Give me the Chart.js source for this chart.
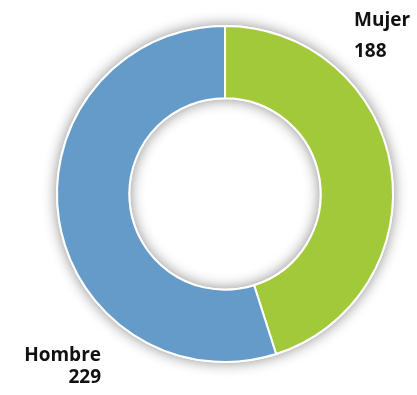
<!DOCTYPE html>
<html>
<head>
<meta charset="utf-8">
<script src="https://cdn.jsdelivr.net/npm/chart.js@4"></script>
<style>
  html, body { margin: 0; padding: 0; background: #fff; }
  #wrap { width: 417px; height: 395px; position: relative; }
</style>
</head>
<body>
<div id="wrap"><canvas id="c"></canvas></div>
<script>
// Gender split doughnut
const labels = ["Mujer", "Hombre"];
const counts = [188, 229];
const colors = ["#a2c93a", "#659bc8"];

// Soft shadow under the whole ring, drawn once so the segment joins stay clean.
const ringShadow = {
  id: "ringShadow",
  beforeDatasetsDraw(chart) {
    const arc = chart.getDatasetMeta(0).data[0];
    if (!arc) return;
    const { x, y, outerRadius, innerRadius } = arc.getProps(["x", "y", "outerRadius", "innerRadius"], true);
    const ctx = chart.ctx;
    ctx.save();
    ctx.shadowColor = "rgba(0,0,0,0.45)";
    ctx.shadowBlur = 14;
    ctx.fillStyle = "#fff";
    ctx.beginPath();
    ctx.arc(x, y, outerRadius + 1, 0, Math.PI * 2);
    ctx.arc(x, y, innerRadius - 1, 0, Math.PI * 2, true);
    ctx.fill();
    ctx.restore();
  },
};

// Name + count labels placed outside the ring
const outsideLabels = {
  id: "outsideLabels",
  afterDraw(chart) {
    const arc = chart.getDatasetMeta(0).data[0];
    const { x, y } = arc.getProps(["x", "y"], true);
    const ctx = chart.ctx;
    ctx.save();
    ctx.fillStyle = "#111";
    ctx.font = 'bold 19px "Open Sans", sans-serif';
    ctx.textBaseline = "alphabetic";
    ctx.textAlign = "left";
    ctx.fillText(labels[0], x + 129, y - 168);
    ctx.fillText(String(counts[0]), x + 129, y - 137);
    ctx.textAlign = "right";
    ctx.fillText(labels[1], x - 124, y + 167);
    ctx.fillText(String(counts[1]), x - 124, y + 189);
    ctx.restore();
  },
};

new Chart(document.getElementById("c"), {
  type: "doughnut",
  data: {
    labels,
    datasets: [{
      data: counts,
      backgroundColor: colors,
      borderColor: "#ffffff",
      borderWidth: 2,
    }],
  },
  options: {
    responsive: true,
    maintainAspectRatio: false,
    animation: false,
    cutout: "57%",
    layout: { padding: { left: 56, right: 23, top: 25, bottom: 32 } },
    plugins: {
      legend: { display: false },
      tooltip: { enabled: false },
    },
  },
  plugins: [ringShadow, outsideLabels],
});
</script>
</body>
</html>
